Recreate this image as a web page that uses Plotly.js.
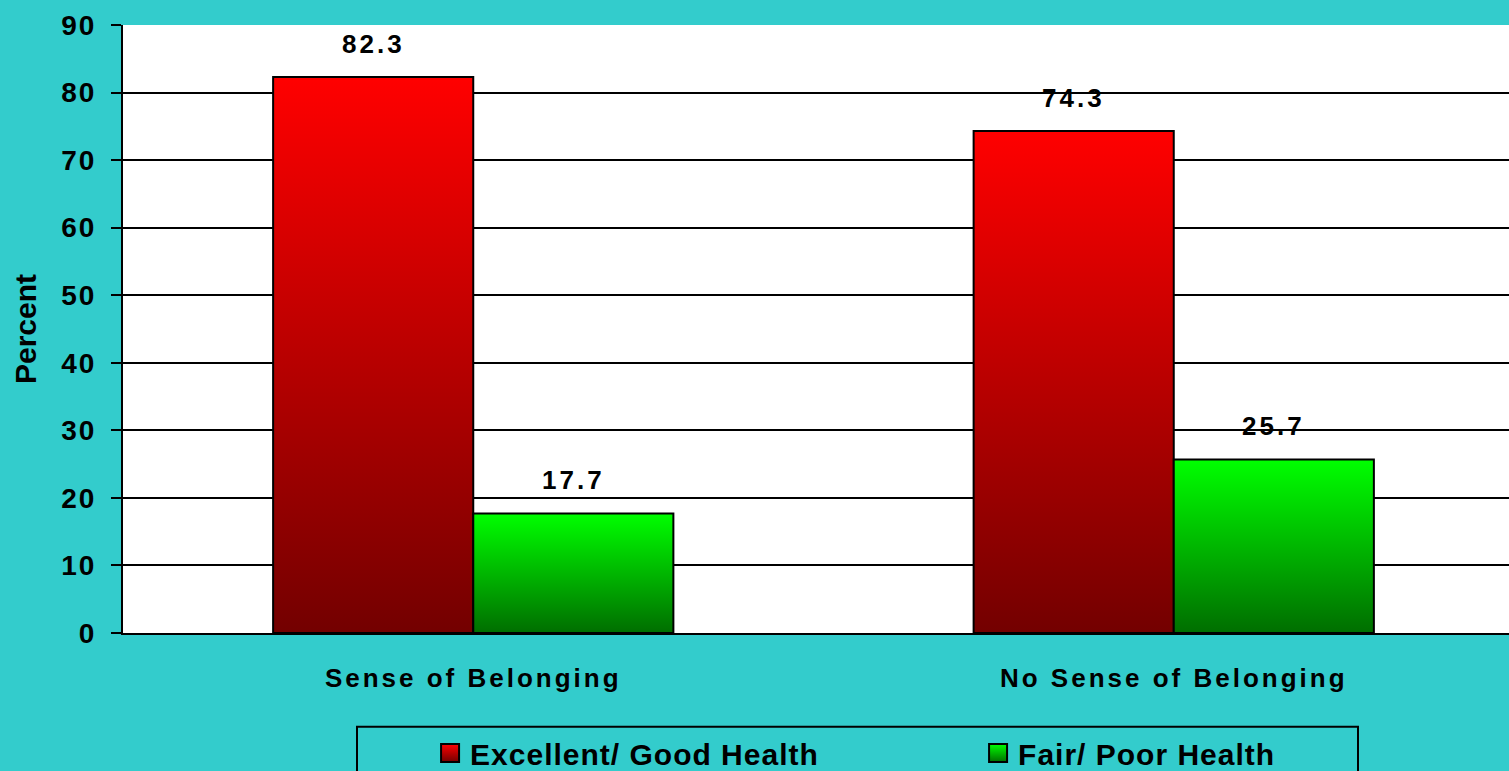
<!DOCTYPE html>
<html>
<head>
<meta charset="utf-8">
<script src="https://cdn.plot.ly/plotly-3.0.1.min.js"></script>
<style>
  html, body { margin: 0; padding: 0; background: #33CCCC; overflow: hidden; width: 1509px; height: 771px; }
  #chart { width: 1524px; height: 771px; }
  .ytick text { letter-spacing: 2px; }
  .xtick text { letter-spacing: 3px; }
  .annotation-text { letter-spacing: 3px; }
  .legendtext { letter-spacing: 1px; }
</style>
</head>
<body>
<div id="chart"></div>
<script>
// ---- data ----
const categories = ["Sense of Belonging", "No Sense of Belonging"];
const goodHealth = [82.3, 74.3];
const poorHealth = [17.7, 25.7];
const seriesNames = ["Excellent/ Good Health", "Fair/ Poor Health"];
const yTicks = [0, 10, 20, 30, 40, 50, 60, 70, 80, 90];

// ---- layout helpers ----
const catIdx = categories.map((_, i) => i);
const barW = 0.2857;
const font = "'Liberation Sans', Arial, sans-serif";

const traces = [
  {
    type: "bar", name: seriesNames[0], x: catIdx, y: goodHealth,
    offset: -barW, width: barW,
    marker: { color: "#C00000", line: { color: "#000", width: 2 } },
    hoverinfo: "skip"
  },
  {
    type: "bar", name: seriesNames[1], x: catIdx, y: poorHealth,
    offset: 0, width: barW,
    marker: { color: "#00B000", line: { color: "#000", width: 2 } },
    hoverinfo: "skip"
  }
];

const annotations = [];
goodHealth.forEach((v, i) => annotations.push({
  x: i - barW / 2, y: v, xref: "x", yref: "y", text: v.toFixed(1),
  showarrow: false, yanchor: "bottom", yshift: 16,
  font: { family: font, size: 26, color: "#000", weight: "bold" }
}));
poorHealth.forEach((v, i) => annotations.push({
  x: i + barW / 2, y: v, xref: "x", yref: "y", text: v.toFixed(1),
  showarrow: false, yanchor: "bottom", yshift: 16,
  font: { family: font, size: 26, color: "#000", weight: "bold" }
}));

const layout = {
  width: 1524, height: 771,
  margin: { l: 123, r: 0, t: 25, b: 138, autoexpand: false },
  paper_bgcolor: "#33CCCC",
  plot_bgcolor: "#FFFFFF",
  barmode: "overlay",
  showlegend: true,
  font: { family: font, color: "#000" },
  xaxis: {
    type: "linear", range: [-0.5, 1.5],
    tickvals: catIdx, ticktext: categories,
    ticks: "", showgrid: false, zeroline: false,
    showline: true, linecolor: "#000", linewidth: 2,
    ticklabelstandoff: 21, automargin: false,
    tickfont: { family: font, size: 26, color: "#000", weight: "bold" }
  },
  yaxis: {
    range: [0, 90], tickvals: yTicks, ticktext: yTicks.map(String),
    ticks: "outside", ticklen: 10, tickcolor: "#000", tickwidth: 2,
    showgrid: true, gridcolor: "#000", gridwidth: 2,
    zeroline: false, showline: true, linecolor: "#000", linewidth: 2,
    ticklabelstandoff: 9, automargin: false,
    tickfont: { family: font, size: 28, color: "#000", weight: "bold" },
    title: { text: "Percent", standoff: 16,
      font: { family: font, size: 30, color: "#000", weight: "bold" } }
  },
  legend: {
    orientation: "h", xref: "container", yref: "container",
    x: 0.2822, xanchor: "left", y: 0.057, yanchor: "top",
    bgcolor: "rgba(0,0,0,0)", borderwidth: 0,
    entrywidth: 503, entrywidthmode: "pixels",
    font: { family: font, size: 30, color: "#000", weight: "bold" }
  },
  shapes: [{
    type: "rect", xref: "paper", yref: "paper",
    x0: (357 - 123) / 1401, x1: (1358 - 123) / 1401,
    y0: -0.154, y1: -0.3,
    line: { color: "#000", width: 2 }, fillcolor: "rgba(0,0,0,0)", layer: "above"
  }],
  annotations: annotations
};

Plotly.newPlot("chart", traces, layout, { staticPlot: true, displayModeBar: false }).then(gd => {
  const svg = gd.querySelector(".main-svg");
  const ns = "http://www.w3.org/2000/svg";
  let defs = svg.querySelector("defs");
  if (!defs) { defs = document.createElementNS(ns, "defs"); svg.insertBefore(defs, svg.firstChild); }
  function grad(id, top, bottom) {
    const g = document.createElementNS(ns, "linearGradient");
    g.setAttribute("id", id);
    g.setAttribute("x1", "0"); g.setAttribute("y1", "0");
    g.setAttribute("x2", "0"); g.setAttribute("y2", "1");
    [[0, top], [1, bottom]].forEach(([o, c]) => {
      const s = document.createElementNS(ns, "stop");
      s.setAttribute("offset", o); s.setAttribute("stop-color", c);
      g.appendChild(s);
    });
    defs.appendChild(g);
  }
  grad("gRed", "#FF0000", "#730000");
  grad("gGreen", "#00FF00", "#006E00");
  const ids = ["gRed", "gGreen"];
  gd.querySelectorAll(".barlayer .trace").forEach((t, i) => {
    t.querySelectorAll("path").forEach(p => { p.style.fill = "url(#" + ids[i] + ")"; });
  });
  gd.querySelectorAll(".legend .traces").forEach((t, i) => {
    t.querySelectorAll(".legendpoints path").forEach(p => {
      p.setAttribute("d", "M9,9H-9V-9H9Z");
      p.style.fill = "url(#" + ids[i] + ")";
      p.style.strokeWidth = "2px";
    });
  });
});
</script>
</body>
</html>
